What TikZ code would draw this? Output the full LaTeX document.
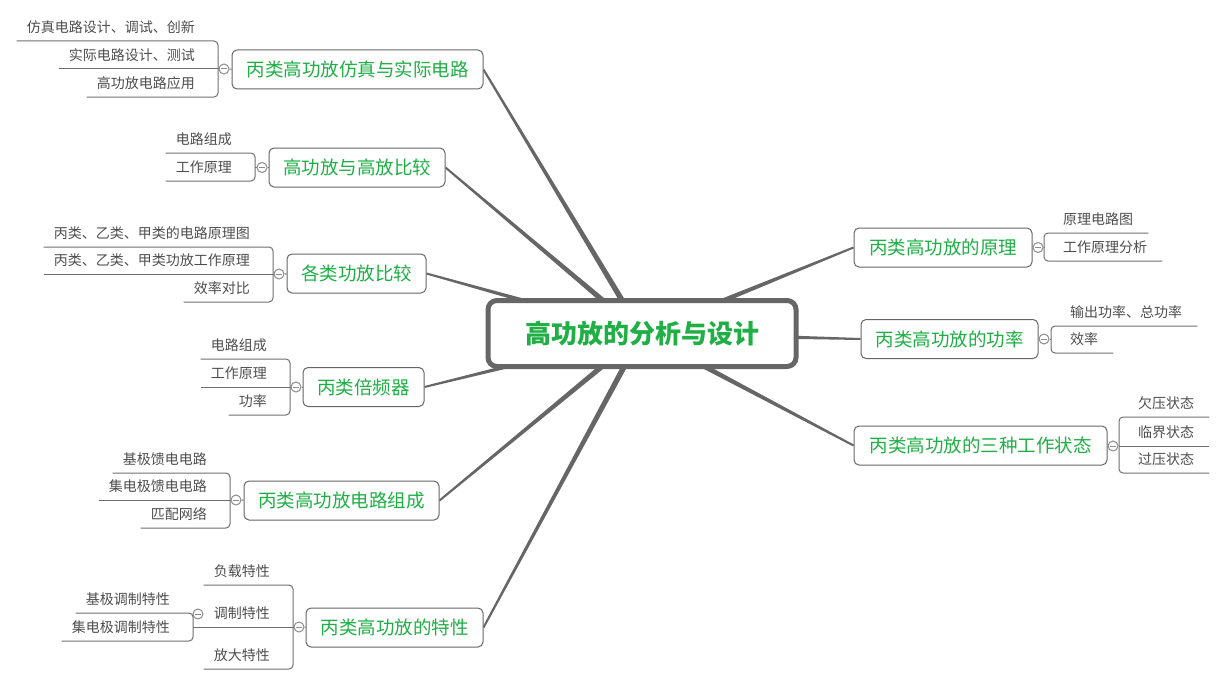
\documentclass[tikz,border=0pt]{standalone}
\usepackage{fontspec}
\setmainfont{Noto Sans CJK SC}
\usepackage{tikz}
\usetikzlibrary{calc, backgrounds}
\definecolor{lineGray}{HTML}{666666}
\definecolor{linkGray}{HTML}{6E6E6E}
\definecolor{subGray}{HTML}{4D4D4D}
\definecolor{foldGray}{HTML}{8C8C8C}
\definecolor{topicGreen}{HTML}{1FAF45}

\tikzset{
    root/.style={draw=lineGray, line width=5pt, rounded corners=9pt, fill=white,
        minimum width=308pt, minimum height=66pt, text=topicGreen,
        font=\fontsize{26}{30}\selectfont\bfseries},
    topic/.style={draw=lineGray, line width=1pt, rounded corners=5pt, fill=white,
        minimum height=39pt, text=topicGreen, font=\fontsize{18.5}{22}\selectfont},
    subl/.style={anchor=south east, inner xsep=10pt, inner ysep=5pt,
        text height=11pt, text depth=3pt, text=subGray,
        font=\fontsize{14}{16}\selectfont},
    subr/.style={subl, anchor=south west, inner xsep=15pt},
    fold/.style={circle, draw=foldGray, fill=white, line width=1pt,
        minimum size=10pt, inner sep=0pt,
        path picture={\draw[foldGray, line width=1pt]
            ([xshift=-2.8pt]path picture bounding box.center) --
            ([xshift=2.8pt]path picture bounding box.center);}},
    link/.style={draw=linkGray, line width=1pt, rounded corners=4pt}
}

\begin{document}
\begin{tikzpicture}[x=1pt, y=-1pt]
    \useasboundingbox (0,0) rectangle (1224,685);

    \node[root] (root) at (642,333.5) {高功放的分析与设计};

    % left topics
    \node[topic, minimum width=251pt] (t1) at (357.5,69.5) {丙类高功放仿真与实际电路};
    \node[topic, minimum width=176pt] (t2) at (357,167.5) {高功放与高放比较};
    \node[topic, minimum width=139pt] (t3) at (356.5,273.5) {各类功放比较};
    \node[topic, minimum width=121pt] (t4) at (363.5,387) {丙类倍频器};
    \node[topic, minimum width=195pt] (t5) at (341.5,500.5) {丙类高功放电路组成};
    \node[topic, minimum width=177pt] (t6) at (394.5,627.5) {丙类高功放的特性};
    % right topics
    \node[topic, minimum width=178pt] (t7) at (943,247.5) {丙类高功放的原理};
    \node[topic, minimum width=177pt] (t8) at (949.5,339) {丙类高功放的功率};
    \node[topic, minimum width=253pt] (t9) at (980.5,445.5) {丙类高功放的三种工作状态};

    % folds
    \node[fold] (f1) at (224,69) {};
    \node[fold] (f2) at (262,167.5) {};
    \node[fold] (f3) at (279,274) {};
    \node[fold] (f4) at (296,387) {};
    \node[fold] (f5) at (236,500) {};
    \node[fold] (f6) at (299,627) {};
    \node[fold] (f62) at (198,614) {};
    \node[fold] (f7) at (1038,247.5) {};
    \node[fold] (f8) at (1044,339) {};
    \node[fold] (f9) at (1113,446) {};

    % bracket corners
    \coordinate (b1) at (218,69);
    \coordinate (b2) at (255,167.5);
    \coordinate (b3) at (273,274);
    \coordinate (b4) at (290,387);
    \coordinate (b5) at (230,500);
    \coordinate (b6) at (293,627);
    \coordinate (b62) at (193,627);
    \coordinate (b7) at (1044,247.5);
    \coordinate (b8) at (1051,339);
    \coordinate (b9) at (1119,446);

    % subtopics
    \node[subl] (s11) at (205,41) {仿真电路设计、调试、创新};
    \node[subl] (s12) at (205,69) {实际电路设计、测试};
    \node[subl] (s13) at (205,97) {高功放电路应用};

    \node[subl] (s21) at (242,153) {电路组成};
    \node[subl] (s22) at (242,181) {工作原理};

    \node[subl] (s31) at (260,247) {丙类、乙类、甲类的电路原理图};
    \node[subl] (s32) at (260,274) {丙类、乙类、甲类功放工作原理};
    \node[subl] (s33) at (260,302) {效率对比};

    \node[subl] (s41) at (277,359) {电路组成};
    \node[subl] (s42) at (277,387) {工作原理};
    \node[subl] (s43) at (277,415) {功率};

    \node[subl] (s51) at (217,473) {基极馈电电路};
    \node[subl] (s52) at (217,500) {集电极馈电电路};
    \node[subl] (s53) at (217,528) {匹配网络};

    \node[subl] (s61) at (280,585) {负载特性};
    \node[subl] (s62) at (280,627) {调制特性};
    \node[subl] (s63) at (280,669) {放大特性};
    \node[subl] (s621) at (180,613) {基极调制特性};
    \node[subl] (s622) at (180,641) {集电极调制特性};

    \node[subr] (s71) at (1048,233) {原理电路图};
    \node[subr] (s72) at (1048,261) {工作原理分析};

    \node[subr] (s81) at (1055,326) {输出功率、总功率};
    \node[subr] (s82) at (1055,353) {效率};

    \node[subr] (s91) at (1123,417) {欠压状态};
    \node[subr] (s92) at (1123,446) {临界状态};
    \node[subr] (s93) at (1123,473) {过压状态};

    \begin{scope}[on background layer]
        % tapered branches out of the root
        \foreach \tp/\side in {t1/east,t2/east,t3/east,t4/east,t5/east,t6/east,t7/west,t8/west,t9/west}
            \fill[lineGray] ($(root)!3pt!90:(\tp.\side)$) -- ($(\tp.\side)!1pt!-90:(root)$)
                -- ($(\tp.\side)!1pt!90:(root)$) -- ($(root)!3pt!-90:(\tp.\side)$) -- cycle;

        % fold to topic
        \foreach \n in {1,...,9}
            \draw[link] (f\n) -- (t\n);

        % left brackets
        \draw[link] (s11.south west) -- (s11.south west -| b1) -- (s13.south west -| b1) -- (s13.south west);
        \draw[link] (s12.south west) -- (f1);
        \draw[link] (s21.south west) -- (s21.south west -| b2) -- (s22.south west -| b2) -- (s22.south west);
        \draw[link] (b2) -- (f2);
        \draw[link] (s31.south west) -- (s31.south west -| b3) -- (s33.south west -| b3) -- (s33.south west);
        \draw[link] (s32.south west) -- (f3);
        \draw[link] (s41.south west) -- (s41.south west -| b4) -- (s43.south west -| b4) -- (s43.south west);
        \draw[link] (s42.south west) -- (f4);
        \draw[link] (s51.south west) -- (s51.south west -| b5) -- (s53.south west -| b5) -- (s53.south west);
        \draw[link] (s52.south west) -- (f5);
        \draw[link] (s61.south west) -- (s61.south west -| b6) -- (s63.south west -| b6) -- (s63.south west);
        \draw[link] (b62) -- (f6);
        \draw[link] (s621.south west) -- (s621.south west -| b62) -- (s622.south west -| b62) -- (s622.south west);

        % right brackets
        \draw[link] (s71.south east) -- (s71.south east -| b7) -- (s72.south east -| b7) -- (s72.south east);
        \draw[link] (b7) -- (f7);
        \draw[link] (s81.south east) -- (s81.south east -| b8) -- (s82.south east -| b8) -- (s82.south east);
        \draw[link] (b8) -- (f8);
        \draw[link] (s91.south east) -- (s91.south east -| b9) -- (s93.south east -| b9) -- (s93.south east);
        \draw[link] (s92.south east) -- (f9);
    \end{scope}
\end{tikzpicture}
\end{document}
